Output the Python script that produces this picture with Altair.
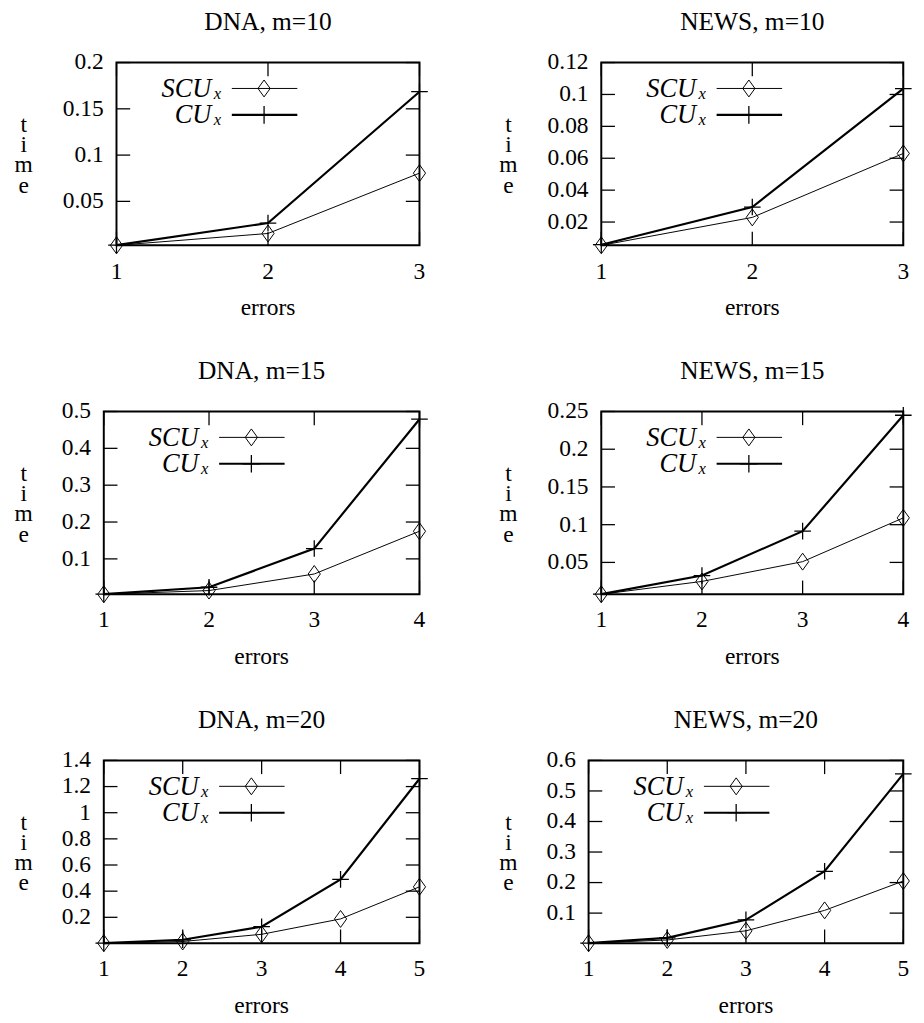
import altair as alt
import pandas as pd

FONT = "Liberation Serif"

# ---------------- data ----------------
errors_10 = [1, 2, 3]
errors_15 = [1, 2, 3, 4]
errors_20 = [1, 2, 3, 4, 5]

dna10_scu = [0.0025, 0.0153, 0.0805]
dna10_cu = [0.0027, 0.0266, 0.1685]
news10_scu = [0.0054, 0.0229, 0.0630]
news10_cu = [0.0058, 0.0294, 0.1037]
dna15_scu = [0.0040, 0.0140, 0.0590, 0.1750]
dna15_cu = [0.0042, 0.0230, 0.1280, 0.4790]
news15_scu = [0.0078, 0.0248, 0.0510, 0.1090]
news15_cu = [0.0080, 0.0326, 0.0914, 0.2450]
dna20_scu = [0.0020, 0.0150, 0.0700, 0.1875, 0.4330]
dna20_cu = [0.0025, 0.0280, 0.1280, 0.4900, 1.2600]
news20_scu = [0.0015, 0.0120, 0.0420, 0.1090, 0.2050]
news20_cu = [0.0018, 0.0190, 0.0780, 0.2370, 0.5560]

yticks_dna10 = [0.05, 0.1, 0.15, 0.2]
yticks_news10 = [0.02, 0.04, 0.06, 0.08, 0.1, 0.12]
yticks_dna15 = [0.1, 0.2, 0.3, 0.4, 0.5]
yticks_news15 = [0.05, 0.1, 0.15, 0.2, 0.25]
yticks_dna20 = [0.2, 0.4, 0.6, 0.8, 1, 1.2, 1.4]
yticks_news20 = [0.1, 0.2, 0.3, 0.4, 0.5, 0.6]

panel_titles = ["DNA, m=10", "NEWS, m=10", "DNA, m=15", "NEWS, m=15", "DNA, m=20", "NEWS, m=20"]
legend_main = ["SCU", "CU"]
legend_sub = "x"
x_title = "errors"
y_title = ["t", "i", "m", "e"]

# ---------------- styling ----------------
DIAMOND = "M0,-1L0.72,0L0,1L-0.72,0Z"
PLUS = "M-1,0L1,0M0,-1L0,1"
H = 187
TICK = 14
LFS = 24  # axis text size


def panel(title, xs, scu, cu, yticks, width, title_x, anchor):
    ymin = min(scu + cu)
    ymax = yticks[-1]
    xsc = alt.Scale(domain=[xs[0], xs[-1]], nice=False, zero=False)
    ysc = alt.Scale(domain=[ymin, ymax], nice=False, zero=False)
    X = alt.X("errors:Q", scale=xsc, axis=None)
    Y = alt.Y("time:Q", scale=ysc, axis=None)

    d_scu = pd.DataFrame({"errors": xs, "time": scu})
    d_cu = pd.DataFrame({"errors": xs, "time": cu})
    d_yt = pd.DataFrame({"time": yticks})
    d_xt = pd.DataFrame({"errors": xs})
    one = pd.DataFrame({"k": [0]})

    layers = []
    # invisible anchor that fixes the panel's left extent
    layers.append(alt.Chart(one).mark_rule(strokeWidth=0, opacity=0).encode(
        x=alt.value(-anchor), x2=alt.value(-anchor), y=alt.value(H / 2), y2=alt.value(H / 2 + 1)))

    # inward ticks (mirrored on all four sides)
    layers.append(alt.Chart(d_yt).mark_rule(color="black", strokeWidth=1.3).encode(
        y=Y, x=alt.value(0), x2=alt.value(TICK)))
    layers.append(alt.Chart(d_yt).mark_rule(color="black", strokeWidth=1.3).encode(
        y=Y, x=alt.value(width - TICK), x2=alt.value(width)))
    layers.append(alt.Chart(d_xt).mark_rule(color="black", strokeWidth=1.3).encode(
        x=X, y=alt.value(0), y2=alt.value(TICK)))
    layers.append(alt.Chart(d_xt).mark_rule(color="black", strokeWidth=1.3).encode(
        x=X, y=alt.value(H - TICK), y2=alt.value(H)))

    # tick labels and axis titles
    layers.append(alt.Chart(d_yt).mark_text(align="right", baseline="middle", font=FONT,
                                            fontSize=LFS, color="black").encode(
        y=Y, x=alt.value(-13), text=alt.Text("time:Q", format=".2~f")))
    layers.append(alt.Chart(d_xt).mark_text(align="center", baseline="alphabetic", font=FONT,
                                            fontSize=LFS, color="black").encode(
        x=X, y=alt.value(H + 34), text=alt.Text("errors:Q", format="d")))
    layers.append(alt.Chart(one).mark_text(align="center", baseline="alphabetic", font=FONT,
                                           fontSize=LFS, color="black").encode(
        x=alt.value(width / 2), y=alt.value(H + 71), text=alt.value(x_title)))
    layers.append(alt.Chart(one).mark_text(align="center", baseline="alphabetic", font=FONT,
                                           fontSize=LFS, lineHeight=20.7, color="black").encode(
        x=alt.value(title_x), y=alt.value(71), text=alt.value(y_title)))

    # series
    layers.append(alt.Chart(d_scu).mark_line(color="black", strokeWidth=1).encode(x=X, y=Y))
    layers.append(alt.Chart(d_scu).mark_point(shape=DIAMOND, size=300, filled=False, color="black",
                                              strokeWidth=1, opacity=1).encode(x=X, y=Y))
    layers.append(alt.Chart(d_cu).mark_line(color="black", strokeWidth=2.2).encode(x=X, y=Y))
    layers.append(alt.Chart(d_cu).mark_point(shape=PLUS, size=289, filled=False, color="black",
                                             strokeWidth=1.3, opacity=1).encode(x=X, y=Y))

    # key (inside the frame, upper left)
    rows = [(26.5, 1.0, DIAMOND, 300, 1.0), (53.5, 2.2, PLUS, 324, 1.3)]
    for name, (ry, lw, shp, sz, sw) in zip(legend_main, rows):
        layers.append(alt.Chart(one).mark_text(align="right", baseline="alphabetic", font=FONT,
                                               fontStyle="italic", fontSize=27, color="black").encode(
            x=alt.value(97), y=alt.value(ry + 8.5), text=alt.value(name)))
        layers.append(alt.Chart(one).mark_text(align="right", baseline="alphabetic", font=FONT,
                                               fontStyle="italic", fontSize=17, color="black").encode(
            x=alt.value(107), y=alt.value(ry + 10.5), text=alt.value(legend_sub)))
        layers.append(alt.Chart(one).mark_rule(color="black", strokeWidth=lw).encode(
            x=alt.value(118), x2=alt.value(185), y=alt.value(ry)))
        layers.append(alt.Chart(one).mark_point(shape=shp, size=sz, filled=False, color="black",
                                                strokeWidth=sw, opacity=1).encode(
            x=alt.value(151), y=alt.value(ry)))

    return alt.layer(*layers).properties(
        width=width, height=H,
        title=alt.TitleParams(title, font=FONT, fontSize=26, fontWeight="normal", anchor="middle",
                              baseline="alphabetic", offset=-5, color="black"))


def spacer():
    return alt.Chart(pd.DataFrame({"k": [0]})).mark_point(opacity=0).encode(
        x=alt.value(0), y=alt.value(0)
    ).properties(width=1, height=1,
                 view=alt.ViewBackground(stroke="transparent", strokeWidth=0))


p1 = panel(panel_titles[0], errors_10, dna10_scu, dna10_cu, yticks_dna10, 310, -95, 109)
p2 = panel(panel_titles[1], errors_10, news10_scu, news10_cu, yticks_news10, 309, -95, 106)
p3 = panel(panel_titles[2], errors_15, dna15_scu, dna15_cu, yticks_dna15, 323, -82, 96)
p4 = panel(panel_titles[3], errors_15, news15_scu, news15_cu, yticks_news15, 309, -95, 106)
p5 = panel(panel_titles[4], errors_20, dna20_scu, dna20_cu, yticks_dna20, 323, -82, 96)
p6 = panel(panel_titles[5], errors_20, news20_scu, news20_cu, yticks_news20, 322, -82, 93)


def row(left, right):
    return alt.hconcat(alt.hconcat(spacer(), left, spacing=0), right, spacing=66)


chart = alt.vconcat(
    row(p1, p2), row(p3, p4), row(p5, p6), spacing=38
).properties(
    padding={"left": -5, "top": -11, "right": 0, "bottom": 0}
).configure(
    font=FONT
).configure_view(
    stroke="black", strokeWidth=2
).configure_title(
    font=FONT, fontSize=26, fontWeight="normal", color="black"
)

chart.save("out.html", embed_options={"renderer": "svg", "actions": False})
